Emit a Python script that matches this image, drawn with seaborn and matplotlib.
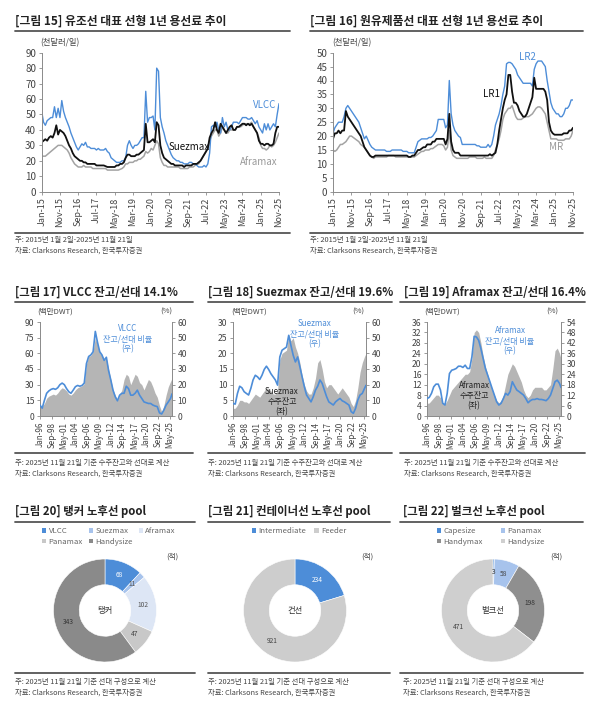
import numpy as np
import pandas as pd
import matplotlib
matplotlib.use("Agg")
import matplotlib.pyplot as plt
import seaborn as sns
from matplotlib.lines import Line2D
from matplotlib.patches import Patch

# ---------------- DATA ----------------
rate_ticks = ["Jan-15", "Nov-15", "Sep-16", "Jul-17", "May-18", "Mar-19", "Jan-20",
              "Nov-20", "Sep-21", "Jul-22", "May-23", "Mar-24", "Jan-25", "Nov-25"]

vlcc = [52,45,43,46,47,48,48,55,48,54, 48,59,52,48,45,42,38,35,32,29,
        27,29,31,30,32,29,29,28,28,28, 27,28,27,27,27,28,26,25,22,21,
        20,19,19,19,20,20,22,30,33,30, 28,30,30,31,33,35,35,65,45,48,
        48,49,40,80,78,48,42,38,33,30, 27,24,22,21,20,20,19,19,18,18,
        18,19,19,18,18,17,16,16,16,17, 16,18,25,42,43,42,45,40,38,48,
        42,45,40,40,42,45,45,45,44,46, 48,48,48,47,47,48,46,44,46,42,
        40,38,44,40,44,40,42,44,42,50, 57]
suezmax = [32,33,34,33,35,36,35,38,43,37, 40,39,38,36,33,30,28,25,23,22,
           21,20,20,19,19,18,18,18,18,18, 17,17,17,17,17,16.5,16,16,16,16,
           16,17,17,18,18,19,22,24,24,23, 23,23,24,24,25,26,27,44,32,32,
           33,34,32,45,43,30,25,22,21,20, 19,18,18,17,17,17,17,17,16,17,
           17,17,17,18,18,18,19,20,22,24, 26,28,35,38,40,45,40,38,44,42,
           40,38,40,42,43,40,40,42,42,43, 44,44,43,44,43,44,42,40,38,33,
           31,31,30,31,31,30,30,31,38,42, 42]
aframax = [23,23,23,24,25,26,27,28,29,30, 30,30,29,28,27,25,22,20,18,17,
           16,16,16,17,16,16,16,16,15,15, 15,15,15,15,15,15,14,14,14,14,
           14,14,14,14.5,15,16,18,18,19,19, 19,20,20,21,21,22,23,26,25,26,
           28,27,30,33,31,22,19,17,17,16, 16,16,16,16,16,16,15,15,15,15,
           15,16,16,16,17,18,18,20,22,24, 26,28,33,36,38,40,40,36,38,42,
           40,38,38,40,40,40,40,42,42,42, 43,44,44,44,44,45,42,40,38,35,
           30,28,28,27,28,30,29,30,32,35, 38]

lr2 = [21,23,24,25,25,25,27,30,31,30, 29,28,27,26,25,23,21,19,20,18.5,
       17,16,15.5,15,15,15,15,15,15,14.5, 14.5,14.5,15,15,15,15,15,15,14.5,14.5,
       14.5,14,14,14,14,16,18,18.5,19,19, 19,19,19.5,19.5,20,21,22,26,26,26,
       26,23,24,40,28,24,22,21,20,19.5, 17,17,17,17,17,17,17,17,16.5,16.5,
       16,16,16,16,17,16,17,20,24,26, 28,31,35,38,46,46.5,46.5,46,45,44,
       42,41,40,39,39,39,39,39,38,44, 46,47,47,47,46,45,40,36,32,30,
       29,28,28,27,27,28,30,30,31,33, 33]
lr1 = [19,21,21,22,21,22,22,29,27,26, 25,24,23,22,21,20,18,16,15,14,
       13,12.5,12.5,13,13,13,13,13,13,13, 13,13,13,13,13,13,13,13,13,13,
       13,12.5,12.5,13,13,14,15,15,15.5,16, 16,17,17,17,18,18,19,19,19,19,
       19,17,19,28,18,15,14,14,14,13, 13,13,13,13,13,13,13,13,13,13,
       13,13,13,13,13,13.5,13,13.5,14,17, 22,26,30,33,35,42,42,36,32,32,
       31,29,28,27,27,28,30,32,34,41, 37,37,37,37,37,36,33,25,22,21,
       20.5,20.5,20.5,20.5,20.5,21,21,21,22,22, 23]
mr = [15,14.5,15,16,17,17,17.5,18,19,20, 20,19.5,19,18.5,18,17,16.5,16,15,14,
      13,12.5,12,12.5,12.5,12.5,12.5,12.5,12.5,12.5, 13,13,13,13,12.5,12.5,12.5,12.5,12.5,12.5,
      12.5,12.5,12.5,12.5,12.5,13,13.5,14,14.5,14.5, 15,15,15,15.5,15.5,16,16.5,17,17,17,
      16.5,15,16,22,15,13,12.5,12,12,12, 12,12,12,12,12.5,12.5,12.5,12.5,12,12,
      12,12,12.5,12,12,12,12,13,15,17, 19,22,26,28,29,30,30,31,29,27,
      26,26,26,26.5,27,27,27,27.5,28,29, 30,30.5,30.5,30,29,28,25,22,19,19,
      19,19,18.5,18.5,18.5,18.5,19,19,19,20, 22]

bl_ticks = ["Jan-96", "Sep-98", "May-01", "Jan-04", "Sep-06", "May-09",
            "Jan-12", "Sep-14", "May-17", "Jan-20", "Sep-22", "May-25"]
bl_months = list(range(0, 360, 6)) + [358]   # Jan-96 ... Jul-25, Nov-25

vlcc_backlog = [9,9,12,17,19,20,21,20,22,25, 27,26,24,21,20,22,25,27,28,29,
                31,50,57,58,62,75,68,60,58,54, 55,45,35,25,20,15,20,25,35,40,
                38,30,35,40,38,32,30,25,30,35, 33,28,22,18,10,4,10,20,28,33, 36]
vlcc_ratio = [7,5,10,14.5,16,17,17.5,17,18,20, 21,20,17.5,15.5,14.5,16.5,18.7,19.5,19,19.5,
              21,33.5,38,39,41,54,47,41,39,35.5, 37.5,29,23,16.5,12.3,9.7,13.3,14.5,14.5,19,
              17.5,13.3,13.3,14.5,16.5,13.3,11.2,9,8.5,8, 8,7,6.4,6,2,1.3,3.8,7,9,11.2, 14.1]

suez_backlog = [2.4,2.5,3.5,5,5,4.5,4.5,4,5,6, 7,6.5,6,7,8,9,8.5,8,7,7,
                8,18,20,20.5,21,26,24,25,22,20, 17,13,10,8,7,7,9,12,17,18,
                15,11,9,10,10,9,8,7,8,9, 8,7,6,4,3,5,9,14,17,19, 20]
suez_ratio = [8,7.6,14.4,19,18,15.5,14.4,13.4,17.6,23, 26,25,23.3,26,29.7,31.8,29.7,27,25,23,
              19.7,37.7,42,43,44,51.5,45,38.8,34.5,37.7, 31.4,25,18.7,13.4,11.2,9,12.3,16.5,19,23,
              20.8,16.5,12.3,9,8,7,9,10.2,11.2,9.7, 9,8,7,2.8,1.7,4.9,10.2,13.4,14.4,17.6, 19.6]

afra_backlog = [4.8,5,6,7,8,8,7,5,4.5,6, 8,10,11,12,13,14,15,16,16,17,
                22,32,33,32,28,23,19,16,13,10, 8,6,5,6,8,12,16,18,20,19,
                17,15,13,10,8,7,8,10,11,11, 11,11,10,10,11,12,18,25,26,24, 22]
afra_ratio = [10,10.7,13,16.8,18.3,18.3,14.9,7.3,6.3,13, 24.4,26.3,26.7,27.3,28.6,28.6,27.9,29.2,27.3,27.3,
              34,45.8,45.4,43.5,38.7,33,27.3,23.5,19.7,15.8, 12,8.2,6.3,7.3,10,13,12,14,19.7,17.2,
              14.9,14,13,12,10,7.6,8.8,9.5,9.5,10, 9.5,9.5,9.2,8.8,10,12,15.8,19.7,20.6,18.7, 16.4]

tanker_cats = ["VLCC", "Suezmax", "Aframax", "Panamax", "Handysize"]
tanker_vals = [68, 11, 102, 47, 343]
box_cats = ["Intermediate", "Feeder"]
box_vals = [234, 921]
bulk_cats = ["Capesize", "Panamax", "Handymax", "Handysize"]
bulk_vals = [3, 58, 198, 471]

# ---------------- STYLE ----------------
sns.set_theme(style="white")
plt.rcParams['font.family'] = ['Noto Sans CJK KR', 'DejaVu Sans']
plt.rcParams['axes.unicode_minus'] = False

BLUE = '#4d8dd8'
BLACK = '#111111'
GRAY = '#a3a3a3'
AREA = '#b5b5b5'
TXT = '#444444'
AX = '#8a8a8a'

W, H = 600, 707
fig = plt.figure(figsize=(6, 7.07), dpi=100)
fig.patch.set_facecolor('white')


def rect(x0, y0, x1, y1):
    return [x0 / W, 1 - y1 / H, (x1 - x0) / W, (y1 - y0) / H]


def ftext(x, y, s, **kw):
    kw.setdefault('va', 'center')
    fig.text(x / W, 1 - y / H, s, **kw)


def hline(x0, x1, y, lw=1.3, color='#555555'):
    fig.add_artist(Line2D([x0 / W, x1 / W], [1 - y / H, 1 - y / H], lw=lw,
                          color=color, transform=fig.transFigure))


def style_axes(ax, right=False):
    for s in ['top', 'right', 'left', 'bottom']:
        ax.spines[s].set_visible(False)
    ax.spines['left'].set_visible(True)
    ax.spines['bottom'].set_visible(True)
    if right:
        ax.spines['right'].set_visible(True)
    for s in ax.spines.values():
        s.set_color(AX)
        s.set_linewidth(0.7)
    ax.tick_params(axis='both', which='both', direction='out', length=2.5, width=0.6,
                   color=AX, labelcolor=TXT, pad=1.5, bottom=True, left=True)
    ax.set_xlabel('')
    ax.set_ylabel('')


def title_block(x, y, xl0, xl1, ly, s, fs=8.2):
    ftext(x, y, s, fontsize=fs, fontweight='bold', color='#222222', ha='left')
    hline(xl0, xl1, ly)


def foot_block(x, y, xl0, xl1, ly, s1, s2):
    hline(xl0, xl1, ly)
    ftext(x, y, s1, fontsize=5.3, color=TXT, ha='left')
    ftext(x, y + 11, s2, fontsize=5.3, color=TXT, ha='left')


# ---------------- ROW 1: charter rates ----------------
months = np.arange(len(vlcc))
df15 = pd.DataFrame({'m': months, 'VLCC': vlcc, 'Suezmax': suezmax, 'Aframax': aframax})
df16 = pd.DataFrame({'m': months, 'LR2': lr2, 'LR1': lr1, 'MR': mr})


def rate_panel(r, df, series, colors, lws, ymax, ystep):
    ax = fig.add_axes(r)
    for s, c, lw in zip(series, colors, lws):
        sns.lineplot(data=df, x='m', y=s, ax=ax, color=c, linewidth=lw, legend=False)
    ax.set_xlim(0, 130)
    ax.set_ylim(0, ymax)
    ax.set_yticks(np.arange(0, ymax + 0.1, ystep))
    ax.set_xticks(np.arange(0, 131, 10))
    ax.set_xticklabels(rate_ticks, rotation=90, fontsize=6.5)
    ax.tick_params(axis='y', labelsize=7)
    style_axes(ax)
    return ax


ax15 = rate_panel(rect(41.7, 52.7, 279, 191.7), df15, ['Aframax', 'VLCC', 'Suezmax'],
                  [GRAY, BLUE, BLACK], [1.1, 1.0, 1.3], 90, 10)
ax16 = rate_panel(rect(333, 52.7, 573, 191.7), df16, ['MR', 'LR2', 'LR1'],
                  [GRAY, BLUE, BLACK], [1.1, 1.0, 1.3], 50, 5)

title_block(15, 21, 15, 290, 31, "[그림 15] 유조선 대표 선형 1년 용선료 추이", 8.5)
title_block(310, 21, 310, 583, 31, "[그림 16] 원유제품선 대표 선형 1년 용선료 추이", 8.5)
ftext(40, 43, "(천달러/일)", fontsize=6, color=TXT, ha='left')
ftext(332, 43, "(천달러/일)", fontsize=6, color=TXT, ha='left')
ftext(265, 105, "VLCC", fontsize=7, color=BLUE, ha='center')
ftext(189, 147, "Suezmax", fontsize=7, color=BLACK, ha='center')
ftext(259, 162, "Aframax", fontsize=7, color='#999999', ha='center')
ftext(527, 57, "LR2", fontsize=7, color=BLUE, ha='center')
ftext(492, 94, "LR1", fontsize=7, color=BLACK, ha='center')
ftext(556, 147, "MR", fontsize=7, color='#999999', ha='center')

foot_block(15, 240, 15, 290, 233, "주: 2015년 1월 2일-2025년 11월 21일",
           "자료: Clarksons Research, 한국투자증권")
foot_block(310, 240, 310, 583, 233, "주: 2015년 1월 2일-2025년 11월 21일",
           "자료: Clarksons Research, 한국투자증권")

# ---------------- ROW 2: orderbook ----------------


def backlog_panel(r, backlog, ratio, lmax, lstep, rmax, rstep):
    ax = fig.add_axes(r)
    d = pd.DataFrame({'m': bl_months, 'backlog': backlog, 'ratio': ratio})
    ax.fill_between(d['m'], d['backlog'], color=AREA, lw=0, zorder=1)
    ax.set_xlim(0, 358)
    ax.set_ylim(0, lmax)
    ax.set_yticks(np.arange(0, lmax + 0.1, lstep))
    ax.set_xticks(np.arange(0, 353, 32))
    ax.set_xticklabels(bl_ticks, rotation=90, fontsize=5.8)
    ax.tick_params(axis='y', labelsize=6.2)
    style_axes(ax, right=True)
    ax2 = ax.twinx()
    sns.lineplot(data=d, x='m', y='ratio', ax=ax2, color=BLUE, linewidth=1.2, legend=False)
    ax2.set_ylim(0, rmax)
    ax2.set_yticks(np.arange(0, rmax + 0.1, rstep))
    ax2.set_xlim(0, 358)
    for s in ax2.spines.values():
        s.set_visible(False)
    ax2.tick_params(axis='y', direction='out', length=2.5, width=0.6, color=AX,
                    labelcolor=TXT, labelsize=6.2, pad=1.5, right=True)
    ax2.set_ylabel('')
    return ax, ax2


backlog_panel(rect(40, 322, 172, 416), vlcc_backlog, vlcc_ratio, 90, 15, 60, 10)
backlog_panel(rect(233, 322, 366, 416), suez_backlog, suez_ratio, 30, 5, 60, 10)
backlog_panel(rect(427, 322, 561, 416), afra_backlog, afra_ratio, 36, 4, 54, 6)

title_block(15, 292, 15, 193, 302, "[그림 17] VLCC 잔고/선대 14.1%")
title_block(208, 292, 208, 392, 302, "[그림 18] Suezmax 잔고/선대 19.6%")
title_block(404, 292, 400, 585, 302, "[그림 19] Aframax 잔고/선대 16.4%")

for x0, x1 in [(37, 172), (231, 364), (424, 558)]:
    ftext(x0, 312, "(백만DWT)", fontsize=5.5, color=TXT, ha='left')
    ftext(x1, 312, "(%)", fontsize=5.5, color=TXT, ha='right')

ftext(128, 339, "VLCC\n잔고/선대 비율\n(우)", fontsize=5.8, color=BLUE, ha='center',
      linespacing=1.15)
ftext(315, 334, "Suezmax\n잔고/선대 비율\n(우)", fontsize=5.8, color=BLUE, ha='center',
      linespacing=1.15)
ftext(282, 402, "Suezmax\n수주잔고\n(좌)", fontsize=5.8, color='#222222', ha='center',
      linespacing=1.15)
ftext(510, 341, "Aframax\n잔고/선대 비율\n(우)", fontsize=5.8, color=BLUE, ha='center',
      linespacing=1.15)
ftext(474, 396, "Aframax\n수주잔고\n(좌)", fontsize=5.8, color='#222222', ha='center',
      linespacing=1.15)

for x0, l0, l1 in [(15, 15, 193), (208, 208, 392), (404, 400, 585)]:
    foot_block(x0, 463, l0, l1, 453, "주: 2025년 11월 21일 기준 수주잔고와 선대로 계산",
               "자료: Clarksons Research, 한국투자증권")

# ---------------- ROW 3: donuts ----------------


def donut(cx, cy, R, cats, vals, colors, lab_colors, center, legend_order, ncol,
          leg_x, colsp, unit_x):
    ax = fig.add_axes(rect(cx - R, cy - R, cx + R, cy + R))
    total = sum(vals)
    wedges, texts, autotexts = ax.pie(
        vals, colors=colors, startangle=90, counterclock=False,
        wedgeprops=dict(width=0.5, edgecolor='white', linewidth=0.4),
        autopct=lambda p: f"{round(p * total / 100)}", pctdistance=0.74,
        textprops=dict(fontsize=4.8))
    for t, c in zip(autotexts, lab_colors):
        t.set_color(c)
    ax.set_xlim(-1, 1)
    ax.set_ylim(-1, 1)
    ax.text(0, 0, center, ha='center', va='center', fontsize=6, color='#333333')
    handles = [Patch(facecolor=colors[i], edgecolor='none', label=cats[i]) for i in legend_order]
    fig.legend(handles=handles, ncol=ncol, loc='upper left',
               bbox_to_anchor=(leg_x / W, 1 - 527 / H), frameon=False, fontsize=5.6,
               handlelength=0.55, handleheight=0.55, handletextpad=0.3,
               columnspacing=colsp, labelspacing=0.35, labelcolor='#666666',
               borderaxespad=0, borderpad=0)
    ftext(unit_x, 557, "(척)", fontsize=5.5, color=TXT, ha='center')


donut(105, 610.5, 51.5, tanker_cats, tanker_vals,
      ['#4d8dd8', '#a7c3ec', '#dde6f5', '#c8c8c8', '#8a8a8a'],
      ['white', '#555555', '#555555', '#444444', '#333333'],
      "탱커", [0, 3, 1, 4, 2], 3, 42, 0.75, 172)
donut(295, 610.5, 51.5, box_cats, box_vals,
      ['#4d8dd8', '#cdcdcd'], ['white', '#444444'],
      "컨선", [0, 1], 2, 252, 1.0, 367)
donut(493, 610.5, 51.5, bulk_cats, bulk_vals,
      ['#4d8dd8', '#a7c3ec', '#8f8f8f', '#cfcfcf'],
      ['#333333', '#444444', '#333333', '#444444'],
      "벌크선", [0, 2, 1, 3], 2, 437, 2.3, 556)

title_block(15, 512, 15, 195, 522, "[그림 20] 탱커 노후선 pool")
title_block(208, 512, 208, 390, 522, "[그림 21] 컨테이너선 노후선 pool")
title_block(403, 512, 400, 583, 522, "[그림 22] 벌크선 노후선 pool")

for x0, l0, l1 in [(15, 15, 195), (208, 208, 390), (403, 400, 583)]:
    foot_block(x0, 682, l0, l1, 673, "주: 2025년 11월 21일 기준 선대 구성으로 계산",
               "자료: Clarksons Research, 한국투자증권")

fig.savefig("out.png", dpi=100, facecolor='white')
